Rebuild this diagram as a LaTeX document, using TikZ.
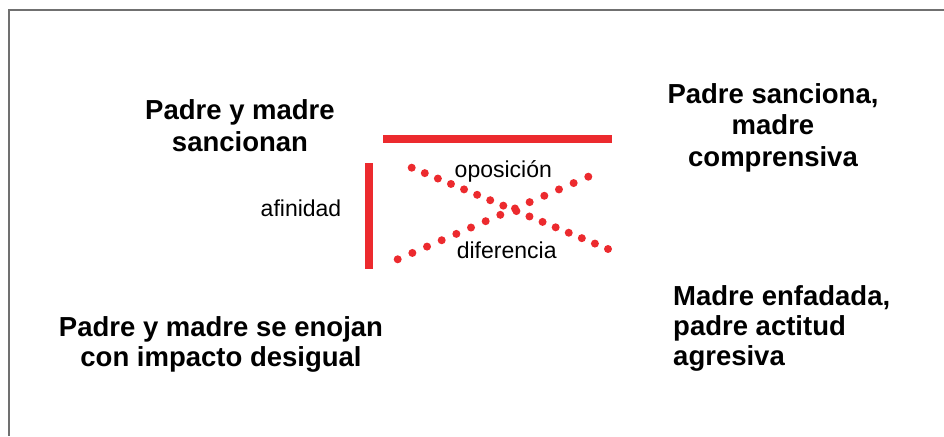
\documentclass[tikz,border=0pt]{standalone}
\usepackage{fontspec}
\setmainfont{Liberation Sans}
\usetikzlibrary{calc}
\definecolor{rojo}{RGB}{236,42,46}
\definecolor{marco}{RGB}{112,112,112}

\begin{document}
\begin{tikzpicture}[x=1pt,y=-1pt,
  grande/.style={font=\fontsize{27.5}{31.5}\selectfont\bfseries,inner sep=0pt,anchor=base,align=center},
  chico/.style={font=\fontsize{23}{27}\selectfont,inner sep=0pt,anchor=base},
  barra/.style={draw=rojo,line width=8pt},
  punto/.style={fill=rojo}]
\useasboundingbox (0,0) rectangle (944,436);

\draw[marco,line width=1.3pt] (944,10) -- (9,10) -- (9,436);

% textos de las cuatro esquinas (base = ultima linea)
\node[grande,font=\fontsize{27.5}{32}\selectfont\bfseries] (sancionan) at (240,151.7) {Padre y madre\\sancionan};
\node[grande] (comprensiva) at (773,166) {Padre sanciona,\\madre\\comprensiva};
\node[grande,font=\fontsize{27.5}{30}\selectfont\bfseries] (enojan) at (221,366.7) {Padre y madre se enojan\\con impacto desigual};
\node[grande,anchor=base west,align=left,font=\fontsize{27.5}{30}\selectfont\bfseries] (enfadada) at (673,365) {Madre enfadada,\\padre actitud\\agresiva};

% relaciones
\node[chico] (afinidad) at (301,216.7) {afinidad};
\node[chico] (oposicion) at (503.3,177.3) {oposición};
\node[chico] (diferencia) at (506.7,258.3) {diferencia};

\coordinate (ha) at (383,139);
\coordinate (hb) at (612,139);
\coordinate (va) at (369,163);
\coordinate (vb) at (369,269);
\draw[barra] (ha)--(hb);
\draw[barra] (va)--(vb);

\coordinate (da) at (411.7,167.7);
\coordinate (db) at (608,249);
\coordinate (ra) at (397.7,259.3);
\coordinate (rb) at (588.3,176.7);
\foreach \i in {0,...,15}
  \fill[punto] ($(da)!\i/15!(db)$) circle (4pt);
\foreach \i in {0,...,13}
  \fill[punto] ($(ra)!\i/13!(rb)$) circle (4pt);

\end{tikzpicture}
\end{document}
